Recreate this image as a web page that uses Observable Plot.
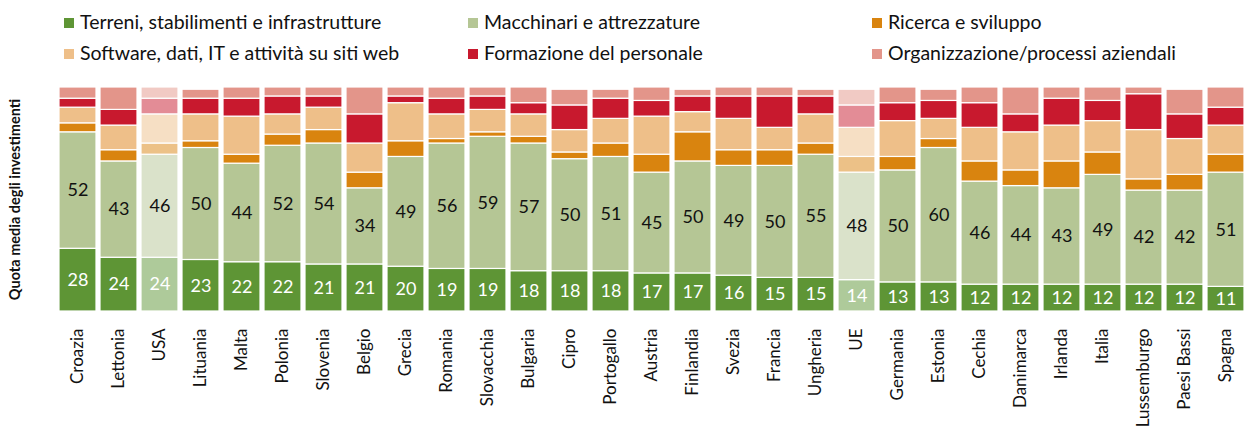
<!DOCTYPE html>
<html>
<head>
<meta charset="utf-8">
<script src="https://cdn.jsdelivr.net/npm/d3@7"></script>
<script src="https://cdn.jsdelivr.net/npm/@observablehq/plot@0.6"></script>
<style>
  html, body { margin: 0; padding: 0; background: #fff; }
  body { width: 1257px; height: 440px; position: relative; overflow: hidden; font-family: Lato, "Open Sans", sans-serif; }
  #legend { position: relative; height: 72px; }
  .li { position: absolute; font-size: 19.5px; color: #111; white-space: nowrap; line-height: 22px; }
  .sw { display: inline-block; width: 10px; height: 10px; margin-right: 6px; vertical-align: 1px; }
  #chart svg { display: block; overflow: visible; }
</style>
</head>
<body>
<div id="legend"></div>
<div id="chart"></div>
<script>
const countries = ["Croazia","Lettonia","USA","Lituania","Malta","Polonia","Slovenia","Belgio","Grecia","Romania","Slovacchia","Bulgaria","Cipro","Portogallo","Austria","Finlandia","Svezia","Francia","Ungheria","UE","Germania","Estonia","Cechia","Danimarca","Irlanda","Italia","Lussemburgo","Paesi Bassi","Spagna"];
const categories = ["Terreni, stabilimenti e infrastrutture","Macchinari e attrezzature","Ricerca e sviluppo","Software, dati, IT e attività su siti web","Formazione del personale","Organizzazione/processi aziendali"];
const colors = ["#5e9535","#b5c695","#d9840f","#eebf89","#c8192e","#e3958a"];
const terreni      = [28,24,24,23,22,22,21,21,20,19,19,18,18,18,17,17,16,15,15,14,13,13,12,12,12,12,12,12,11];
const macchinari   = [52,43,46,50,44,52,54,34,49,56,59,57,50,51,45,50,49,50,55,48,50,60,46,44,43,49,42,42,51];
const ricerca      = [4,5,5,3,4,5,6,7,7,2,2,3,3,6,8,13,7,7,5,7,6,4,9,7,12,10,5,7,8];
const software     = [7,11,13,12,17,9,10,13,17,11,10,10,10,11,17,9,14,10,13,13,16,9,15,17,16,14,22,16,13];
const formazione   = [4,7,7,7,8,8,5,13,3,7,6,5,11,9,7,7,10,14,8,10,8,8,11,8,12,9,16,11,8];
const organizzazione = [5,10,5,4,5,4,4,12,4,5,4,7,7,4,6,3,4,4,3,7,7,5,7,12,5,6,3,11,9];
const highlighted = ["USA","UE"];
const series = [terreni, macchinari, ricerca, software, formazione, organizzazione];
const yLabel = "Quota media degli investimenti";

// legend
const legendPos = [[64,11],[468,11],[872,11],[64,42],[468,42],[872,42]];
const legend = document.getElementById("legend");
categories.forEach((cat, i) => {
  const d = document.createElement("div");
  d.className = "li";
  d.style.left = legendPos[i][0] + "px";
  d.style.top = legendPos[i][1] + "px";
  d.innerHTML = `<span class="sw" style="background:${colors[i]}"></span>${cat}`;
  legend.appendChild(d);
});

const data = [];
countries.forEach((c, i) => {
  categories.forEach((cat, k) => {
    data.push({country: c, cat, k, value: series[k][i], hl: highlighted.includes(c)});
  });
});
const labels = data.filter(d => d.k < 2);

const plot = Plot.plot({
  width: 1257,
  height: 368,
  marginTop: 15,
  marginBottom: 129,
  marginLeft: 46,
  marginRight: 1,
  style: {fontFamily: "Lato, 'Open Sans', sans-serif", background: "white", overflow: "visible"},
  x: {domain: countries, padding: 0.1, paddingOuter: 0.05, label: null},
  y: {domain: [0, 100], axis: null},
  color: {domain: categories, range: colors},
  marks: [
    Plot.barY(data, {x: "country", y: "value", z: "cat", fill: "cat", fillOpacity: d => d.hl ? 0.5 : 1, stroke: "white", strokeWidth: 1.2}),
    Plot.text(labels, Plot.stackY({x: "country", y: "value", z: "cat", text: d => String(d.value), fill: d => d.k === 0 ? "white" : "#111", fontSize: 18})),
    Plot.axisX({tickRotate: -90, tickSize: 0, tickPadding: 17, fontSize: 17, fill: "#111", label: null}),
    Plot.text([yLabel], {frameAnchor: "left", textAnchor: "middle", rotate: -90, dx: -31, fontSize: 14.5, fontWeight: "bold", fill: "#111"})
  ]
});
document.getElementById("chart").appendChild(plot);
</script>
</body>
</html>
